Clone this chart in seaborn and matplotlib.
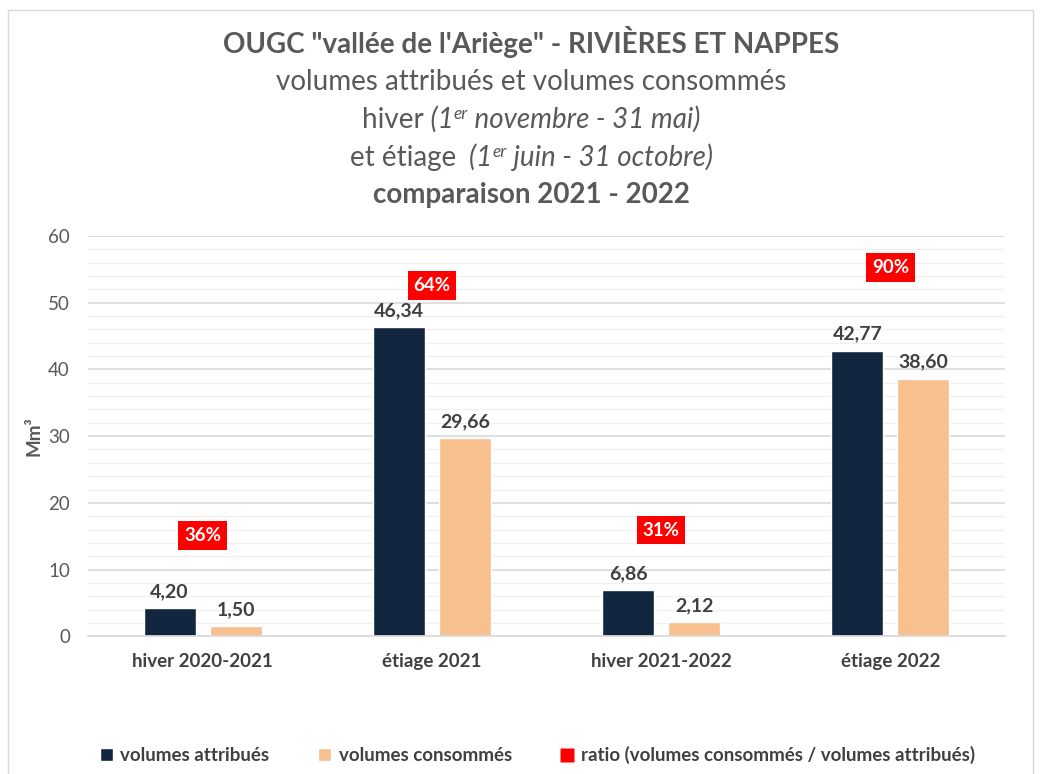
import pandas as pd
import matplotlib.pyplot as plt
import seaborn as sns
from matplotlib.patches import Patch, Rectangle
from matplotlib.lines import Line2D
from matplotlib.ticker import MultipleLocator

periodes = ["hiver 2020-2021", "étiage 2021", "hiver 2021-2022", "étiage 2022"]
attribues = [4.20, 46.34, 6.86, 42.77]
consommes = [1.50, 29.66, 2.12, 38.60]
ratio = [36, 64, 31, 90]
# hauteur des étiquettes de ratio (en Mm3)
ratio_label_y = [15.1, 52.6, 15.9, 55.3]

series = ["volumes attribués", "volumes consommés"]
couleurs = ["#12263f", "#f8c08f"]

df = pd.DataFrame({
    "Periode": periodes * 2,
    "Serie": [series[0]] * 4 + [series[1]] * 4,
    "Volume": attribues + consommes,
})

sns.set_theme(style="white")
plt.rcParams['font.family'] = ['Lato', 'DejaVu Sans']

gris = "#595959"
fs_titre = 20
xc = 0.511  # centre horizontal du titre

fig = plt.figure(figsize=(10.4, 7.74), dpi=100)
ax = fig.add_axes([0.0846, 0.178, 0.8817, 0.517])

sns.barplot(data=df, x="Periode", y="Volume", hue="Serie", palette=couleurs,
            width=0.576, gap=0.21, ax=ax, legend=False, saturation=1)

ax.set_xlim(-0.5, 3.5)
ax.set_ylim(0, 60)
ax.yaxis.set_major_locator(MultipleLocator(10))
ax.yaxis.set_minor_locator(MultipleLocator(2))
ax.grid(axis='y', which='major', color='#d9d9d9', linewidth=1.2)
ax.grid(axis='y', which='minor', color='#f0f0f0', linewidth=1)
ax.set_axisbelow(True)
for s in ["top", "right", "left"]:
    ax.spines[s].set_visible(False)
ax.spines["bottom"].set_color("#d9d9d9")
ax.tick_params(axis='both', which='both', length=0)
ax.tick_params(axis='y', labelsize=13.5, labelcolor=gris, pad=13)
ax.tick_params(axis='x', labelsize=13.5, labelcolor="#404040", pad=12)
for t in ax.get_xticklabels():
    t.set_fontweight('bold')
ax.set_xlabel("")
ax.set_ylabel("Mm³", fontsize=13.5, fontweight='bold', color=gris, labelpad=4)

# étiquettes de valeurs
for cont in ax.containers:
    ax.bar_label(cont, labels=[f"{v:.2f}".replace(".", ",") for v in cont.datavalues],
                 padding=6, fontsize=14, fontweight='bold', color="#404040")

# étiquettes de ratio
for i, (r, y) in enumerate(zip(ratio, ratio_label_y)):
    ax.text(i, y, f"{r}%", ha='center', va='center', fontsize=13.5, fontweight='bold',
            color='white', bbox=dict(boxstyle='square,pad=0.3', fc='#ff0000', ec='none'))


# titre : lignes composées de morceaux (romain / italique / exposant)
def ligne(y, morceaux):
    renderer = fig.canvas.get_renderer()
    W = fig.get_figwidth() * fig.dpi
    textes, largeurs = [], []
    for txt, style, sup in morceaux:
        size = fs_titre * 0.62 if sup else fs_titre
        t = fig.text(0, y + (0.011 if sup else 0), txt, fontsize=size, fontstyle=style,
                     color=gris, ha='left', va='baseline')
        textes.append(t)
        largeurs.append(t.get_window_extent(renderer).width / W)
    x = xc - sum(largeurs) / 2
    for t, w in zip(textes, largeurs):
        t.set_x(x)
        x += w


fig.text(xc, 0.932, "OUGC \"vallée de l'Ariège\" - RIVIÈRES ET NAPPES", ha='center', va='baseline',
         fontsize=fs_titre, fontweight='bold', color=gris)
fig.text(xc, 0.884, "volumes attribués et volumes consommés", ha='center', va='baseline',
         fontsize=fs_titre, color=gris)
ligne(0.835, [("hiver", 'normal', False), (" (1", 'italic', False), ("er", 'italic', True),
              (" novembre - 31 mai)", 'italic', False)])
ligne(0.786, [("et étiage", 'normal', False), ("  (1", 'italic', False), ("er", 'italic', True),
              (" juin - 31 octobre)", 'italic', False)])
fig.text(xc, 0.738, "comparaison 2021 - 2022", ha='center', va='baseline',
         fontsize=fs_titre, fontweight='bold', color=gris)

# légende
handles = [
    Patch(facecolor=couleurs[0], label=series[0]),
    Patch(facecolor=couleurs[1], label=series[1]),
    Line2D([], [], marker='s', color='none', markerfacecolor='#ff0000', markeredgecolor='none',
           markersize=10, label="ratio (volumes consommés / volumes attribués)"),
]
leg = fig.legend(handles=handles, loc='center', bbox_to_anchor=(0.517, 0.024), ncol=3, frameon=False,
                 fontsize=13.5, labelcolor="#404040", handlelength=0.7, handleheight=0.7,
                 handletextpad=0.4, columnspacing=2.6)
for t in leg.get_texts():
    t.set_fontweight('bold')

fig.add_artist(Rectangle((0.008, -0.01), 0.985, 0.997, transform=fig.transFigure,
                         fill=False, edgecolor='#d9d9d9', linewidth=1))

fig.savefig("out.png", dpi=100)
